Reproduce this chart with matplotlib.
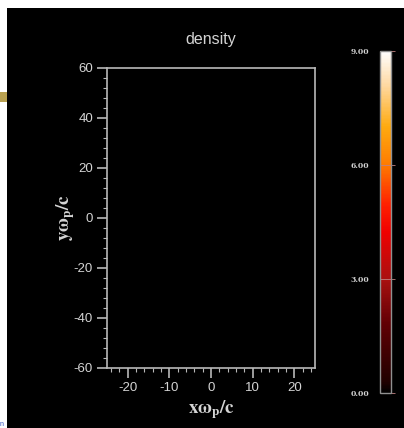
import numpy as np
import matplotlib
matplotlib.use("Agg")
import matplotlib.pyplot as plt
from matplotlib.colors import LinearSegmentedColormap
from matplotlib.patches import Rectangle
from matplotlib.ticker import MultipleLocator

plt.rcParams["axes.unicode_minus"] = False
plt.rcParams["mathtext.fontset"] = "stix"
plt.rcParams["font.family"] = ["Liberation Sans", "DejaVu Sans"]

# data: the density field is empty (all zero)
x_limits = [-25, 25]
y_limits = [-60, 60]
x_ticks = [-20, -10, 0, 10, 20]
y_ticks = [-60, -40, -20, 0, 20, 40, 60]
cbar_ticks = [0.0, 3.0, 6.0, 9.0]
density = np.zeros((60, 25))

FG = "#d4d4d4"
SPINE = "#b8b8b8"

cmap = LinearSegmentedColormap.from_list("dens", [
    (0.0, "#000000"), (0.03, "#200000"), (0.2, "#600004"), (0.33, "#a81010"),
    (0.47, "#f00000"), (0.55, "#ff2000"), (0.67, "#ff7c00"), (0.78, "#ffaa10"),
    (0.9, "#ffd8a0"), (1.0, "#ffffff")])

fig = plt.figure(figsize=(4.04, 4.28), dpi=100, facecolor="white")

# black panel, with the thin white strip on the left and top
fig.patches.append(Rectangle((7 / 404, 0), 1, 1 - 8 / 428, transform=fig.transFigure,
                             facecolor="black", edgecolor="none", zorder=-10))
fig.patches.append(Rectangle((0, 1 - 102 / 428), 7 / 404, 10 / 428, transform=fig.transFigure,
                             facecolor="#b8a050", edgecolor="none", zorder=-9))
fig.text(0.0, 0.0, "n", color="#3050c0", fontsize=5, ha="left", va="bottom")

ax = fig.add_axes([107 / 404, 1 - 368 / 428, 208 / 404, 300 / 428])
ax.set_facecolor("black")
im = ax.imshow(density, cmap=cmap, vmin=cbar_ticks[0], vmax=cbar_ticks[-1],
               extent=x_limits + y_limits, origin="lower", aspect="auto")
ax.set_xlim(x_limits)
ax.set_ylim(y_limits)
ax.set_xticks(x_ticks)
ax.set_yticks(y_ticks)
ax.xaxis.set_minor_locator(MultipleLocator(2))
ax.yaxis.set_minor_locator(MultipleLocator(4))
ax.tick_params(which="major", direction="out", length=7, width=1.2, color=SPINE,
               labelcolor=FG, labelsize=9.5, pad=3)
ax.tick_params(which="minor", direction="out", length=3, width=0.8, color=SPINE)
for s in ax.spines.values():
    s.set_color(SPINE)
    s.set_linewidth(1.2)

ax.set_title("density", color=FG, fontsize=11.5, pad=17)
ax.set_xlabel(r"$\mathbf{x\omega_p/c}$", color=FG, fontsize=13.5, labelpad=3)
ax.set_ylabel(r"$\mathbf{y\omega_p/c}$", color=FG, fontsize=13.5, labelpad=-2)

cax = fig.add_axes([380 / 404, 1 - 393 / 428, 11 / 404, 342 / 428])
cb = fig.colorbar(im, cax=cax, ticks=cbar_ticks)
cb.outline.set_edgecolor("#909090")
cb.outline.set_linewidth(1.0)
cax.yaxis.set_ticks_position("left")
cax.yaxis.set_label_position("left")
cax.tick_params(direction="in", length=11, width=0.6, color="#c08080",
                labelcolor=FG, labelsize=5.5, pad=8)
cax.set_yticklabels([f"{v:.2f}" for v in cbar_ticks], fontfamily="serif",
                    fontweight="bold")

fig.savefig("out.png", dpi=100, facecolor=fig.get_facecolor())
